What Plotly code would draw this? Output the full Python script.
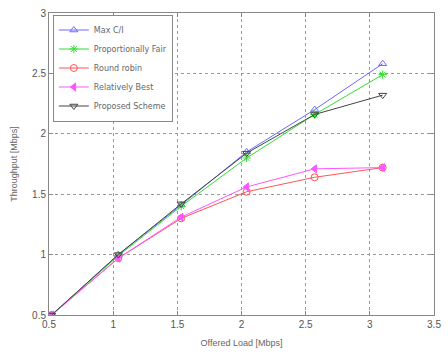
import plotly.graph_objects as go

x_load = [0.52, 1.04, 1.53, 2.04, 2.57, 3.1]
max_ci = [0.50, 1.00, 1.41, 1.85, 2.20, 2.58]
prop_fair = [0.50, 0.99, 1.40, 1.80, 2.16, 2.49]
round_robin = [0.50, 0.97, 1.30, 1.52, 1.64, 1.72]
rel_best = [0.50, 0.97, 1.31, 1.56, 1.71, 1.72]
proposed = [0.50, 1.00, 1.42, 1.84, 2.16, 2.32]

series = [
    ("Max C/I", max_ci, "#6a6aff", "triangle-up-open"),
    ("Proportionally Fair", prop_fair, "#33dd33", "asterisk-open"),
    ("Round robin", round_robin, "#ff5555", "circle-open"),
    ("Relatively Best", rel_best, "#ff55ff", "triangle-left"),
    ("Proposed Scheme", proposed, "#444444", "triangle-down-open"),
]

fig = go.Figure()
for name, ys, col, sym in series:
    fig.add_trace(go.Scatter(
        x=x_load, y=ys, name=name, mode="lines+markers",
        line=dict(color=col, width=1),
        marker=dict(symbol=sym, size=7, color=col, line=dict(color=col, width=1)),
    ))

axis_common = dict(
    showgrid=True, gridcolor="#999999", griddash="dot", gridwidth=1,
    showline=True, linecolor="#888888", linewidth=1, mirror="ticks",
    ticks="inside", ticklen=4, tickcolor="#888888",
    tickfont=dict(family="Liberation Sans, Arial", size=10, color="#555555"),
    zeroline=False,
)

fig.update_layout(
    width=448, height=356,
    margin=dict(l=49, r=7, t=10, b=41),
    paper_bgcolor="white", plot_bgcolor="white",
    showlegend=True,
    legend=dict(
        x=0.01, y=0.995, xanchor="left", yanchor="top",
        bgcolor="white", bordercolor="#888888", borderwidth=1,
        font=dict(family="DejaVu Sans", size=8, color="#666666"),
        tracegroupgap=0, itemwidth=30,
    ),
    xaxis=dict(range=[0.5, 3.5], tickvals=[0.5, 1, 1.5, 2, 2.5, 3, 3.5],
               ticktext=["0.5", "1", "1.5", "2", "2.5", "3", "3.5"],
               title=dict(text="Offered Load [Mbps]", standoff=10,
                          font=dict(family="Liberation Sans, Arial", size=9, color="#666666")),
               **axis_common),
    yaxis=dict(range=[0.5, 3], tickvals=[0.5, 1, 1.5, 2, 2.5, 3],
               ticktext=["0.5", "1", "1.5", "2", "2.5", "3"],
               title=dict(text="Throughput [Mbps]", standoff=12,
                          font=dict(family="Liberation Sans, Arial", size=9, color="#666666")),
               **axis_common),
)

fig.write_html("out.html")
